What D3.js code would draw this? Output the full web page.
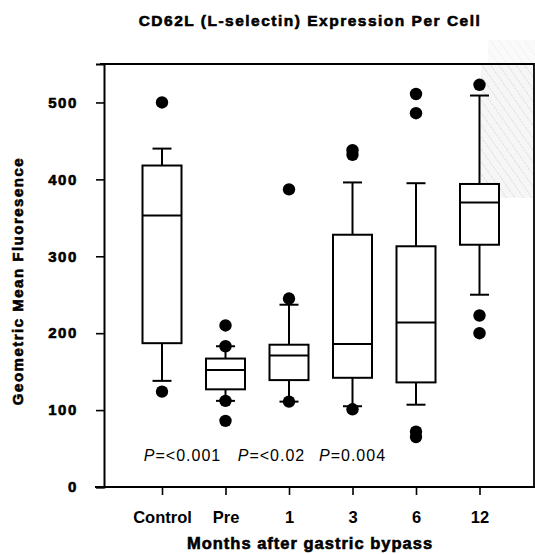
<!DOCTYPE html>
<html>
<head>
<meta charset="utf-8">
<script src="https://cdn.jsdelivr.net/npm/d3@7"></script>
<style>
  html, body { margin: 0; padding: 0; background: #fff; }
  svg { display: block; }
  text { font-family: "Liberation Sans", Arial, Helvetica, sans-serif; fill: #000; }
  .heavy { stroke: #000; stroke-width: 0.6px; }
</style>
</head>
<body>
<svg id="chart" width="535" height="554"></svg>
<script>
// ---- data ----
const categories   = ["Control", "Pre", "1", "3", "6", "12"];
const whiskerLow   = [138, 112, 111, 105, 107, 250];
const q1           = [187, 127, 139, 142, 136, 315];
const median       = [353, 152, 171, 186, 214, 370];
const q3           = [418, 167, 185, 328, 313, 394];
const whiskerHigh  = [440, 183, 237, 396, 395, 509];
const outliers     = [
  [500, 124],
  [210, 183, 112, 86],
  [387, 245, 111],
  [438, 432, 101],
  [511, 486, 72, 65],
  [523, 223, 200]
];
const yTicks       = [0, 100, 200, 300, 400, 500];
const pLabels      = ["<0.001", "<0.02", "0.004"];

const titleText  = "CD62L (L-selectin) Expression Per Cell";
const xTitleText = "Months after gastric bypass";
const yTitleText = "Geometric Mean Fluoresence";

// ---- layout ----
const svg = d3.select("#chart");
const frame = { left: 104, right: 534, top: 64, bottom: 487 };

const x = d3.scalePoint().domain(categories).range([162, 479.5]);
const y = d3.scaleLinear().domain([0, 550]).range([frame.bottom, frame.top]);

const boxW = 39, capW = 19, dotR = 6.2;

// scan texture in top-right corner
const defs = svg.append("defs");
const pat = defs.append("pattern").attr("id", "tex").attr("patternUnits", "userSpaceOnUse")
  .attr("width", 7).attr("height", 7).attr("patternTransform", "rotate(-35)");
pat.append("rect").attr("width", 7).attr("height", 7).attr("fill", "#f3f3f3");
pat.append("line").attr("x1", 0).attr("y1", 0).attr("x2", 0).attr("y2", 7)
  .attr("stroke", "#c4c4c4").attr("stroke-width", 1.2).attr("stroke-dasharray", "2,1");
svg.append("rect").attr("x", 481).attr("y", frame.top).attr("width", frame.right - 481).attr("height", 134)
  .attr("fill", "url(#tex)").attr("opacity", 0.75);
svg.append("rect").attr("x", 488).attr("y", 40).attr("width", 535 - 488).attr("height", frame.top - 40)
  .attr("fill", "url(#tex)").attr("opacity", 0.4);

// frame
svg.append("path")
  .attr("d", `M${frame.left - 4},${frame.top}H${frame.right}V${frame.bottom}`)
  .attr("fill", "none").attr("stroke", "#000").attr("stroke-width", 1.8);

// y axis
const yAxis = svg.append("g").attr("transform", `translate(${frame.left},0)`)
  .call(d3.axisLeft(y).tickValues(yTicks).tickSize(8).tickPadding(18));
yAxis.select(".domain").attr("stroke", "#000").attr("stroke-width", 2);
yAxis.selectAll(".tick line").attr("stroke", "#000").attr("stroke-width", 1.6);
yAxis.selectAll(".tick text")
  .attr("class", "heavy")
  .style("font-family", '"Liberation Sans", Arial, sans-serif')
  .style("font-size", "15px").style("font-weight", "bold").style("letter-spacing", "1.6px")
  .attr("fill", "#000");

// x axis
const xAxis = svg.append("g").attr("transform", `translate(0,${frame.bottom})`)
  .call(d3.axisBottom(x).tickSize(8).tickSizeOuter(0));
xAxis.select(".domain").attr("d", `M${frame.left - 9},0H535`).attr("stroke", "#000").attr("stroke-width", 2);
xAxis.selectAll(".tick line").attr("stroke", "#000").attr("stroke-width", 1.6);
xAxis.selectAll(".tick text")
  .attr("y", 36).attr("dy", null)
  .style("font-family", '"Liberation Sans", Arial, sans-serif')
  .style("font-size", "16.5px").style("font-weight", "bold")
  .attr("fill", "#000");

// boxes
const data = categories.map((c, i) => ({
  c, lo: whiskerLow[i], q1: q1[i], med: median[i], q3: q3[i], hi: whiskerHigh[i], out: outliers[i]
}));
const g = svg.append("g").attr("stroke", "#000").attr("stroke-width", 2);
const groups = g.selectAll("g.box").data(data).join("g").attr("class", "box");

groups.append("line").attr("x1", d => x(d.c)).attr("x2", d => x(d.c))
  .attr("y1", d => y(d.hi)).attr("y2", d => y(d.q3));
groups.append("line").attr("x1", d => x(d.c)).attr("x2", d => x(d.c))
  .attr("y1", d => y(d.q1)).attr("y2", d => y(d.lo));
groups.append("line").attr("x1", d => x(d.c) - capW / 2).attr("x2", d => x(d.c) + capW / 2)
  .attr("y1", d => y(d.hi)).attr("y2", d => y(d.hi));
groups.append("line").attr("x1", d => x(d.c) - capW / 2).attr("x2", d => x(d.c) + capW / 2)
  .attr("y1", d => y(d.lo)).attr("y2", d => y(d.lo));
groups.append("rect").attr("x", d => x(d.c) - boxW / 2).attr("width", boxW)
  .attr("y", d => y(d.q3)).attr("height", d => y(d.q1) - y(d.q3))
  .attr("fill", "#fff");
groups.append("line").attr("x1", d => x(d.c) - boxW / 2).attr("x2", d => x(d.c) + boxW / 2)
  .attr("y1", d => y(d.med)).attr("y2", d => y(d.med));
groups.selectAll("circle").data(d => d.out.map(v => ({ c: d.c, v }))).join("circle")
  .attr("cx", d => x(d.c)).attr("cy", d => y(d.v)).attr("r", dotR)
  .attr("fill", "#000").attr("stroke", "none");

// P-value annotations
const pCenters = [x("Control") + 20.5, x("Pre") + 46, x("3")];
pLabels.forEach((p, i) => {
  const t = svg.append("text").attr("x", pCenters[i]).attr("y", 461)
    .attr("text-anchor", "middle")
    .style("font-size", "16px").style("letter-spacing", "1px");
  t.append("tspan").style("font-style", "italic").text("P");
  t.append("tspan").text("=" + p);
});

// titles
svg.append("text").attr("class", "heavy").attr("x", 310).attr("y", 25.5).attr("text-anchor", "middle")
  .style("font-size", "15.5px").style("font-weight", "bold").style("letter-spacing", "1.5px")
  .text(titleText);
svg.append("text").attr("class", "heavy").attr("x", 310).attr("y", 549).attr("text-anchor", "middle")
  .style("font-size", "16.5px").style("font-weight", "bold").style("letter-spacing", "1px")
  .text(xTitleText);
svg.append("text").attr("class", "heavy").attr("transform", "translate(23,281) rotate(-90)").attr("text-anchor", "middle")
  .style("font-size", "15px").style("font-weight", "bold").style("letter-spacing", "1.5px")
  .text(yTitleText);
</script>
</body>
</html>
